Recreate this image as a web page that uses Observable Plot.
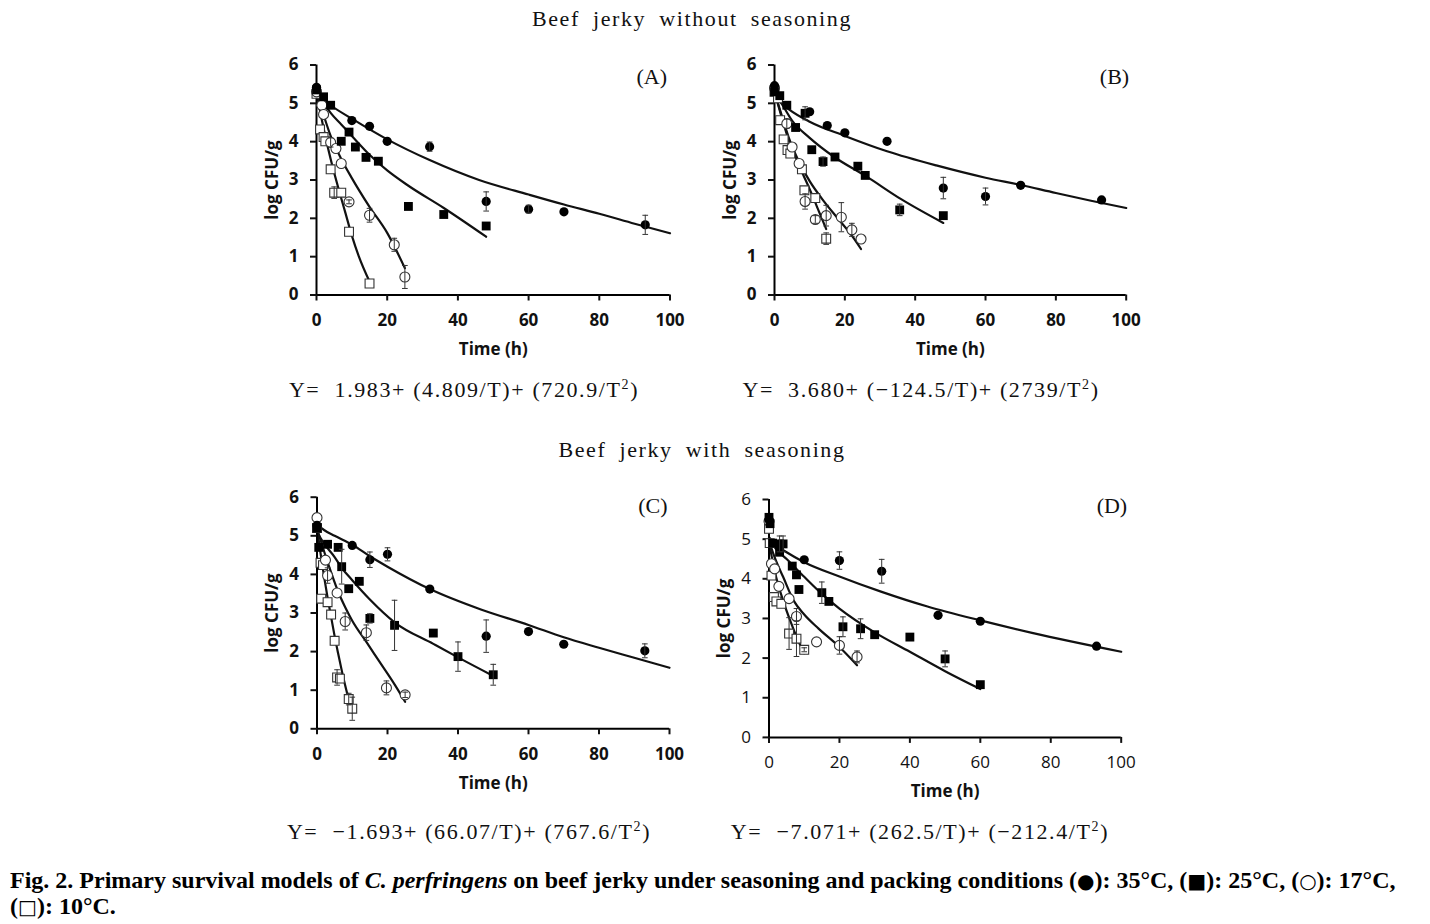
<!DOCTYPE html>
<html><head><meta charset="utf-8">
<script src="https://cdn.jsdelivr.net/npm/d3@7"></script>
<script src="https://cdn.jsdelivr.net/npm/@observablehq/plot@0.6"></script>
<style>
body{margin:0;background:#fff;width:1430px;height:924px;position:relative;overflow:hidden;}
.t{position:absolute;font-family:"Liberation Serif",serif;color:#111;white-space:pre;transform:translate(-50%,-50%);}
.title{font-size:22px;letter-spacing:1.6px;word-spacing:6px;}
.formula{font-size:22px;letter-spacing:1.6px;}
.formula sup{font-size:14px;}
.panel{position:absolute;}
.cap{position:absolute;left:10px;font-family:"Liberation Serif",serif;font-weight:bold;font-size:24px;line-height:26px;white-space:pre;color:#000;transform:translateY(-50%);}
.sym{font-family:"DejaVu Sans",sans-serif;font-weight:normal;font-size:20px;}
</style></head><body>
<div class="t title" style="left:692px;top:19px">Beef jerky without seasoning</div>
<div class="t title" style="left:702px;top:450px">Beef jerky with seasoning</div>
<div class="t formula" style="left:464px;top:390px">Y=  1.983+ (4.809/T)+ (720.9/T<sup>2</sup>)</div>
<div class="t formula" style="left:921px;top:390px">Y=  3.680+ (−124.5/T)+ (2739/T<sup>2</sup>)</div>
<div class="t formula" style="left:469px;top:832px">Y=  −1.693+ (66.07/T)+ (767.6/T<sup>2</sup>)</div>
<div class="t formula" style="left:920px;top:832px">Y=  −7.071+ (262.5/T)+ (−212.4/T<sup>2</sup>)</div>
<div class="cap" style="top:880px"><span>Fig. 2. Primary survival models of </span><i>C. perfringens</i><span> on beef jerky under seasoning and packing conditions (<span class="sym">●</span>): 35°C, (<span class="sym">■</span>): 25°C, (<span class="sym">○</span>): 17°C,</span></div>
<div class="cap" style="top:906px"><span>(<span class="sym">□</span>): 10°C.</span></div>
<div id="A" class="panel"></div><div id="B" class="panel"></div>
<div id="C" class="panel"></div><div id="D" class="panel"></div>
<script>
// ---- data: [time (h), log CFU/g, error] ----
const A_35 = [[0,5.42,0],[10,4.55,0],[15,4.40,0],[20,4.01,0],[32,3.87,0.12],[48,2.44,0.25],[60,2.24,0.1],[70,2.17,0],[93,1.83,0.25]];
const A_25 = [[0,5.35,0],[2,5.17,0],[4,4.95,0],[7,4.01,0],[9.2,4.25,0],[11,3.86,0],[14,3.59,0],[17.5,3.49,0],[26,2.31,0],[36,2.10,0],[48,1.80,0]];
const A_17 = [[0,5.3,0],[1.5,4.95,0],[2,4.71,0],[4,3.98,0.12],[5.5,3.82,0],[7,3.43,0],[9.2,2.43,0.05],[15,2.08,0.18],[22,1.31,0.17],[25,0.47,0.3]];
const A_10 = [[0,5.25,0],[1,4.32,0],[2,4.12,0],[2.5,4.01,0],[4,3.28,0],[5,2.67,0.15],[7,2.67,0],[9.2,1.65,0],[15,0.30,0]];
const A_35_fit = [[0,5.35],[2,5.1],[4,4.95],[10,4.6],[20,4.06],[32,3.52],[46,3.0],[60,2.62],[70,2.36],[80,2.12],[90,1.86],[100,1.61]];
const A_25_fit = [[0,5.35],[2,5.02],[4,4.75],[7,4.45],[10,4.15],[15,3.66],[20,3.25],[26,2.85],[36,2.27],[48,1.52]];
const A_17_fit = [[0,5.3],[2,4.7],[4,4.15],[7,3.55],[10,3.05],[15,2.3],[20,1.62],[25,0.7]];
const A_10_fit = [[0,5.3],[2,4.35],[4,3.55],[6,2.85],[8,2.2],[10,1.55],[12,1.0],[15,0.35]];

const B_35 = [[0,5.46,0],[10,4.78,0],[15,4.42,0],[20,4.23,0],[32,4.01,0],[48,2.79,0.28],[60,2.57,0.22],[70,2.86,0],[93,2.48,0]];
const B_25 = [[0,5.3,0],[1.5,5.2,0],[3.5,4.95,0],[6,4.37,0],[8.7,4.74,0.17],[10.6,3.79,0],[13.8,3.48,0.12],[17.2,3.60,0],[23.7,3.36,0],[25.8,3.12,0],[35.6,2.22,0.15],[48,2.07,0]];
const B_17 = [[0,5.4,0],[3.5,4.47,0.12],[5,3.86,0],[7,3.43,0],[8.7,2.44,0.2],[11.6,1.97,0.1],[14.7,2.07,0.27],[19,2.03,0.38],[22,1.70,0.17],[24.6,1.46,0]];
const B_10 = [[0,5.3,0],[1,5.13,0],[1.6,4.56,0],[2.6,4.06,0],[3.7,3.78,0],[4.5,3.69,0],[7.8,3.28,0],[8.5,2.73,0],[11.6,2.53,0],[14.7,1.47,0.15]];
const B_35_fit = [[0,5.3],[2,5.0],[4,4.85],[10,4.52],[20,4.15],[32,3.75],[46,3.38],[60,3.06],[70,2.87],[80,2.66],[90,2.46],[100,2.27]];
const B_25_fit = [[0,5.3],[2,5.0],[5,4.55],[10,4.1],[17,3.6],[26,3.1],[36,2.5],[48,1.88]];
const B_17_fit = [[0,5.3],[2,4.7],[4,4.12],[7,3.47],[10,2.97],[14,2.45],[18,2.0],[22,1.55],[24.6,1.2]];
const B_10_fit = [[0,5.3],[2,4.65],[4,4.05],[6,3.6],[8,3.17],[10,2.76],[12,2.32],[14.7,1.72]];

const C_35 = [[0,5.27,0],[10,4.75,0],[15,4.38,0.2],[20,4.52,0.17],[32,3.62,0],[48,2.40,0.42],[60,2.52,0],[70,2.19,0],[93,2.02,0.18]];
const C_25 = [[0,5.2,0],[0.5,4.7,0],[3,4.78,0],[6,4.7,0],[7,4.2,0.45],[9,3.63,0],[12,3.82,0],[15,2.86,0.12],[22,2.68,0.65],[33,2.48,0],[40,1.87,0.38],[50,1.40,0.27]];
const C_17 = [[0,5.47,0],[2.4,4.37,0],[3,3.97,0.2],[5.7,3.52,0],[8,2.78,0.22],[14,2.49,0.2],[19.7,1.06,0.18],[25,0.88,0.07]];
const C_10 = [[0,5.2,0],[1,4.3,0],[1.7,4.24,0],[1.2,3.37,0],[3,3.28,0],[4,2.96,0],[5,2.28,0],[5.7,1.33,0.2],[6.5,1.3,0],[9,0.77,0.15],[10,0.52,0.3]];
const C_35_fit = [[0,5.3],[2,5.15],[5,5.0],[10,4.77],[15,4.47],[20,4.2],[32,3.62],[46.5,3.09],[60,2.69],[70,2.37],[80,2.1],[90,1.84],[100,1.58]];
const C_25_fit = [[0,5.1],[2,4.8],[5,4.45],[7,4.17],[10,3.85],[15,3.35],[22,2.76],[33,2.2],[40,1.85],[50,1.37]];
const C_17_fit = [[0,5.2],[2,4.6],[4,4.05],[6,3.55],[8,3.15],[10,2.8],[14,2.25],[18,1.7],[22,1.15],[25,0.7]];
const C_10_fit = [[0,5.2],[1,4.55],[2,3.95],[3,3.4],[4,2.9],[5,2.4],[6,1.95],[7,1.52],[8,1.12],[9,0.76],[10,0.42]];

const D_35 = [[0,5.49,0],[10,4.48,0],[20,4.46,0.22],[32,4.19,0.3],[48,3.08,0],[60,2.93,0],[93,2.30,0]];
const D_25 = [[0,5.55,0],[0.3,5.39,0],[1,4.9,0],[3,4.88,0.2],[4,4.88,0.2],[3,4.67,0],[6.6,4.32,0],[7.8,4.1,0],[8.5,3.73,0],[15,3.65,0.27],[17,3.43,0],[21,2.79,0.25],[26,2.74,0.25],[30,2.59,0],[40,2.53,0],[50,1.98,0.2],[60,1.33,0]];
const D_17 = [[0,5.45,0],[0.7,4.38,0],[1.6,4.25,0],[2.8,3.81,0],[5.7,3.50,0],[7.8,3.05,0.2],[13.5,2.41,0],[20,2.32,0.22],[25,2.03,0.15]];
const D_10 = [[0,5.26,0],[0.2,4.9,0],[0.7,4.08,0],[1.4,3.54,0],[2.1,3.43,0],[3.5,3.37,0],[5.7,2.62,0.4],[7.8,2.49,0.45],[10,2.21,0.05]];
const D_35_fit = [[0,5.05],[2,4.85],[5,4.67],[10,4.42],[20,4.06],[32,3.67],[45,3.3],[60,2.95],[75,2.63],[100,2.16]];
const D_25_fit = [[0,5.0],[2,4.75],[5,4.5],[10,4.05],[15,3.62],[20,3.25],[30,2.65],[40,2.16],[50,1.67],[60,1.22]];
const D_17_fit = [[0,4.95],[2,4.45],[4,4.05],[7,3.45],[10,3.1],[14,2.75],[20,2.28],[25,1.82]];
const D_10_fit = [[0,4.95],[1,4.45],[2,4.05],[4,3.45],[6,2.95],[8,2.5],[10,2.12]];

const xTicks = [0, 20, 40, 60, 80, 100];
const yTicks = [0, 1, 2, 3, 4, 5, 6];
const panelLetters = ["(A)", "(B)", "(C)", "(D)"];
const xLabel = "Time (h)";
const yLabel = "log CFU/g";

// ---- layout ----
const panels = [
  {id:"A", left:230, top:45, w:460, h:330, mt:19.5, mr:20.5, mb:80.5, ml:86, bold:true, dx:-3, dy:11.5, ylx:-44,
   s35:A_35, s25:A_25, s17:A_17, s10:A_10, fits:[A_35_fit,A_25_fit,A_17_fit,A_10_fit]},
  {id:"B", left:688, top:45, w:460, h:330, mt:19.5, mr:22.3, mb:80.5, ml:86, bold:true, dx:3, dy:11.5, ylx:-44,
   s35:B_35, s25:B_25, s17:B_17, s10:B_10, fits:[B_35_fit,B_25_fit,B_17_fit,B_10_fit]},
  {id:"C", left:230, top:478, w:460, h:330, mt:18.7, mr:21, mb:79.7, ml:86.5, bold:true, dx:-2, dy:8.5, ylx:-44,
   s35:C_35, s25:C_25, s17:C_17, s10:C_10, fits:[C_35_fit,C_25_fit,C_17_fit,C_10_fit]},
  {id:"D", left:682, top:478, w:460, h:330, mt:21, mr:21.3, mb:71.1, ml:86.5, bold:false, dx:6, dy:6.5, ylx:-44,
   s35:D_35, s25:D_25, s17:D_17, s10:D_10, fits:[D_35_fit,D_25_fit,D_17_fit,D_10_fit]}
];

const capSymbol = {draw(ctx, size){ const w = Math.sqrt(size); ctx.moveTo(-w/2, 0); ctx.lineTo(w/2, 0); }};
const X = d => d[0], Y = d => d[1];

panels.forEach((p, i) => {
  const all = [...p.s35, ...p.s25, ...p.s17, ...p.s10].filter(d => d[2] > 0);
  const marks = [
    ...p.fits.map(f => Plot.line(f, {x: X, y: Y, curve: "monotone-x", stroke: "#111", strokeWidth: 2.2})),
    Plot.ruleY([0], {stroke: "#000", strokeWidth: 2}),
    Plot.ruleX([0], {stroke: "#000", strokeWidth: 2}),
    Plot.axisX({ticks: xTicks, tickSize: 6, tickPadding: 13, strokeWidth: 2, label: null, tickFormat: d => d}),
    Plot.axisY({ticks: yTicks, tickSize: 6, tickPadding: 12, strokeWidth: 2, label: null, tickFormat: d => d}),
    Plot.dot(p.s10, {x: X, y: Y, symbol: "square", r: 5, fill: "#fff", stroke: "#333", strokeWidth: 1.1}),
    Plot.dot(p.s17, {x: X, y: Y, symbol: "circle", r: 5, fill: "#fff", stroke: "#333", strokeWidth: 1.1}),
    Plot.dot(p.s25, {x: X, y: Y, symbol: "square", r: 5, fill: "#000", stroke: "none"}),
    Plot.dot(p.s35, {x: X, y: Y, symbol: "circle", r: 4.6, fill: "#000", stroke: "none"}),
    Plot.ruleX(all, {x: X, y1: d => d[1] - d[2], y2: d => d[1] + d[2], stroke: "#333", strokeWidth: 1}),
    Plot.dot(all, {x: X, y: d => d[1] - d[2], symbol: capSymbol, r: 3.2, stroke: "#333", strokeWidth: 1, fill: "none"}),
    Plot.dot(all, {x: X, y: d => d[1] + d[2], symbol: capSymbol, r: 3.2, stroke: "#333", strokeWidth: 1, fill: "none"}),
    Plot.text([panelLetters[i]], {text: d => d, frameAnchor: "top-right", textAnchor: "end", lineAnchor: "middle", dx: p.dx, dy: p.dy,
      fontFamily: "Liberation Serif", fontSize: 22, fontWeight: "normal", fill: "#111"}),
    Plot.text([xLabel], {text: d => d, frameAnchor: "bottom", lineAnchor: "middle", dy: 54.5, fontWeight: "bold", fontSize: 17, fill: "#111"}),
    Plot.text([yLabel], {text: d => d, frameAnchor: "left", lineAnchor: "middle", textAnchor: "middle", rotate: -90, dx: p.ylx, fontWeight: "bold", fontSize: 17, fill: "#111"})
  ];
  const chart = Plot.plot({
    width: p.w, height: p.h,
    marginTop: p.mt, marginRight: p.mr, marginBottom: p.mb, marginLeft: p.ml,
    x: {domain: [0, 100], label: null},
    y: {domain: [0, 6], label: null},
    style: {fontFamily: "'Open Sans', sans-serif", fontSize: "17px", fontWeight: p.bold ? "bold" : "normal", color: "#111", background: "transparent", overflow: "visible"},
    marks
  });
  const el = document.getElementById(p.id);
  el.style.left = p.left + "px"; el.style.top = p.top + "px";
  el.appendChild(chart);
});
</script>
</body></html>
